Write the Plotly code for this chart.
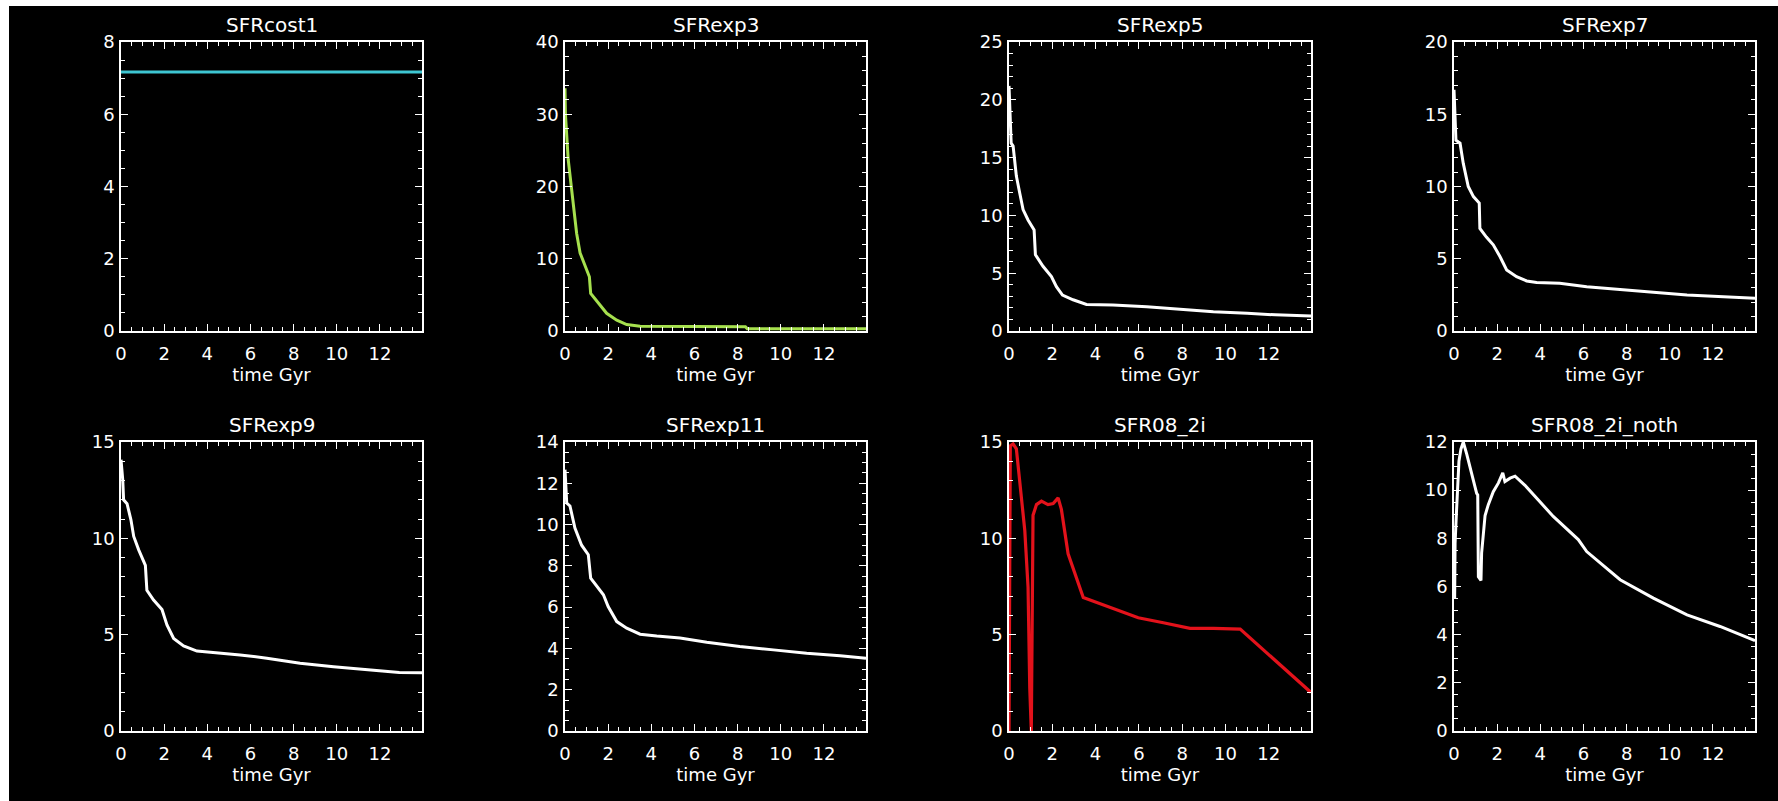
import plotly.graph_objects as go
from plotly.subplots import make_subplots

W, H = 1778, 801
T_MAX = 13.95

titles = ["SFRcost1", "SFRexp3", "SFRexp5", "SFRexp7",
          "SFRexp9", "SFRexp11", "SFR08_2i", "SFR08_2i_noth"]

# ---- data (time in Gyr, SFR) ----
t_cost1 = [0.0, 13.95]
sfr_cost1 = [7.17, 7.17]

t_exp3 = [0.0, 0.02, 0.15, 0.39, 0.54, 0.70, 0.85, 1.13, 1.19, 1.47, 1.93, 2.40, 2.86, 3.48, 8.36, 8.45, 13.95]
sfr_exp3 = [33.6, 30.0, 23.7, 17.2, 13.5, 10.8, 9.6, 7.5, 5.2, 4.1, 2.45, 1.5, 0.9, 0.65, 0.6, 0.3, 0.3]

t_exp5 = [0.0, 0.10, 0.19, 0.34, 0.50, 0.65, 0.88, 1.16, 1.22, 1.57, 1.96, 2.19, 2.47, 2.96, 3.58, 4.8, 6.36, 7.9, 9.44, 11.0, 12.3, 13.95]
sfr_exp5 = [21.2, 16.25, 16.0, 13.4, 11.9, 10.5, 9.6, 8.75, 6.6, 5.6, 4.7, 3.84, 3.1, 2.7, 2.3, 2.25, 2.1, 1.88, 1.67, 1.53, 1.4, 1.3]

t_exp7 = [0.0, 0.09, 0.28, 0.43, 0.66, 0.90, 1.17, 1.20, 1.50, 1.82, 2.13, 2.44, 2.90, 3.37, 3.83, 4.9, 6.15, 7.7, 9.24, 10.8, 12.3, 13.95]
sfr_exp7 = [16.7, 13.2, 13.0, 11.6, 10.0, 9.3, 8.85, 7.1, 6.5, 5.96, 5.15, 4.23, 3.76, 3.46, 3.35, 3.3, 3.07, 2.9, 2.68, 2.5, 2.38, 2.26]

t_exp9 = [0.0, 0.08, 0.12, 0.28, 0.46, 0.59, 0.82, 1.13, 1.20, 1.51, 1.90, 2.13, 2.44, 2.90, 3.52, 4.44, 5.52, 6.76, 8.3, 9.85, 11.4, 12.9, 13.95]
sfr_exp9 = [14.08, 13.04, 12.0, 11.8, 10.96, 10.1, 9.4, 8.6, 7.3, 6.8, 6.3, 5.5, 4.8, 4.42, 4.15, 4.07, 3.95, 3.78, 3.52, 3.34, 3.17, 3.04, 3.02]

t_exp11 = [0.0, 0.08, 0.23, 0.46, 0.77, 1.08, 1.19, 1.47, 1.78, 2.0, 2.4, 2.86, 3.48, 4.25, 5.33, 6.57, 8.1, 9.66, 11.2, 12.75, 13.95]
sfr_exp11 = [12.66, 11.04, 10.9, 9.83, 9.0, 8.54, 7.4, 7.0, 6.6, 6.03, 5.3, 4.98, 4.69, 4.6, 4.5, 4.3, 4.09, 3.93, 3.77, 3.65, 3.52]

t_08_2i = [0.0, 0.06, 0.19, 0.34, 0.73, 0.88, 0.96, 1.03, 1.11, 1.27, 1.50, 1.80, 2.04, 2.27, 2.42, 2.73, 3.43, 4.81, 5.97, 7.13, 8.36, 9.44, 10.68, 13.95]
sfr_08_2i = [0.0, 14.8, 14.9, 14.65, 10.4, 7.46, 2.2, 0.0, 11.2, 11.75, 11.93, 11.75, 11.8, 12.1, 11.5, 9.2, 6.93, 6.37, 5.88, 5.62, 5.33, 5.33, 5.29, 2.0]

t_08_2i_noth = [0.03, 0.05, 0.12, 0.23, 0.32, 0.43, 0.59, 0.82, 1.05, 1.10, 1.13, 1.25, 1.28, 1.44, 1.59, 1.82, 2.06, 2.26, 2.36, 2.60, 2.83, 3.29, 4.6, 5.76, 6.15, 7.7, 9.24, 10.8, 12.33, 13.95]
sfr_08_2i_noth = [5.5, 7.8, 9.2, 11.2, 11.7, 12.0, 11.5, 10.65, 9.87, 9.8, 6.4, 6.25, 7.4, 8.95, 9.4, 9.94, 10.3, 10.72, 10.36, 10.5, 10.58, 10.2, 8.91, 7.95, 7.45, 6.28, 5.52, 4.82, 4.34, 3.75]

series_t = [t_cost1, t_exp3, t_exp5, t_exp7, t_exp9, t_exp11, t_08_2i, t_08_2i_noth]
series_y = [sfr_cost1, sfr_exp3, sfr_exp5, sfr_exp7, sfr_exp9, sfr_exp11, sfr_08_2i, sfr_08_2i_noth]
line_colors = ["#3ec6d2", "#a6e04e", "white", "white", "white", "white", "#e3121b", "white"]
line_widths = [3, 3, 3, 3, 3, 3, 3.2, 3]

y_max = [8, 40, 25, 20, 15, 14, 15, 12]
y_dtick = [2, 10, 5, 5, 5, 2, 5, 2]
y_minor = [0.5, 2, 1, 1, 1, 0.5, 1, 0.5]

# ---- layout geometry (pixels) ----
col_px = [(121, 422), (565, 866), (1009, 1311), (1454, 1755)]
row_px = [(42, 331), (442, 731)]

FONT = "DejaVu Sans"
fig = make_subplots(rows=2, cols=4)

for i in range(8):
    r, c = divmod(i, 4)
    fig.add_trace(go.Scatter(x=series_t[i], y=series_y[i], mode="lines",
                             line=dict(color=line_colors[i], width=line_widths[i]),
                             showlegend=False, hoverinfo="skip"),
                  row=r + 1, col=c + 1)
    x0, x1 = col_px[c]
    y0, y1 = row_px[r]
    fig.update_xaxes(domain=[x0 / W, x1 / W], range=[0, T_MAX], automargin=False,
                     tick0=0, dtick=2, ticks="inside", ticklen=7, tickwidth=1.2,
                     tickcolor="white", showline=True, linecolor="white", linewidth=1.5,
                     mirror="allticks", showgrid=False, zeroline=False,
                     minor=dict(dtick=0.5, tick0=0, ticks="inside", ticklen=4, tickcolor="white", tickwidth=1, showgrid=False),
                     tickfont=dict(family=FONT, size=18, color="white"),
                     ticklabelstandoff=6,
                     title=dict(text="time Gyr", font=dict(family=FONT, size=18, color="white"), standoff=4),
                     row=r + 1, col=c + 1)
    fig.update_yaxes(domain=[1 - y1 / H, 1 - y0 / H], range=[0, y_max[i]], automargin=False,
                     tick0=0, dtick=y_dtick[i], ticks="inside", ticklen=7, tickwidth=1.2,
                     tickcolor="white", showline=True, linecolor="white", linewidth=1.5,
                     mirror="allticks", showgrid=False, zeroline=False,
                     minor=dict(dtick=y_minor[i], tick0=0, ticks="inside", ticklen=4, tickcolor="white", tickwidth=1, showgrid=False),
                     tickfont=dict(family=FONT, size=18, color="white"),
                     ticklabelstandoff=1,
                     row=r + 1, col=c + 1)
    fig.add_annotation(text=titles[i], xref="paper", yref="paper",
                       x=(x0 + x1) / 2 / W, y=1 - (y0 - 17) / H,
                       xanchor="center", yanchor="middle", showarrow=False,
                       font=dict(family=FONT, size=20, color="white"))

# white strips at top and left edges, black canvas elsewhere
fig.add_shape(type="rect", xref="paper", yref="paper", x0=9 / W, x1=1.0, y0=0, y1=1 - 6 / H,
              fillcolor="black", line=dict(width=0), layer="below")

fig.update_layout(width=W, height=H, margin=dict(l=0, r=0, t=0, b=0, pad=0),
                  paper_bgcolor="white", plot_bgcolor="black",
                  font=dict(family=FONT, color="white"))

post = (
    "document.documentElement.style.background='black';"
    "document.body.style.margin='0';"
    "document.body.style.background='black';"
    "document.documentElement.style.overflow='hidden';"
    "document.body.style.overflow='hidden';"
)

fig.write_html("out.html", config={"displayModeBar": False}, post_script=post)
